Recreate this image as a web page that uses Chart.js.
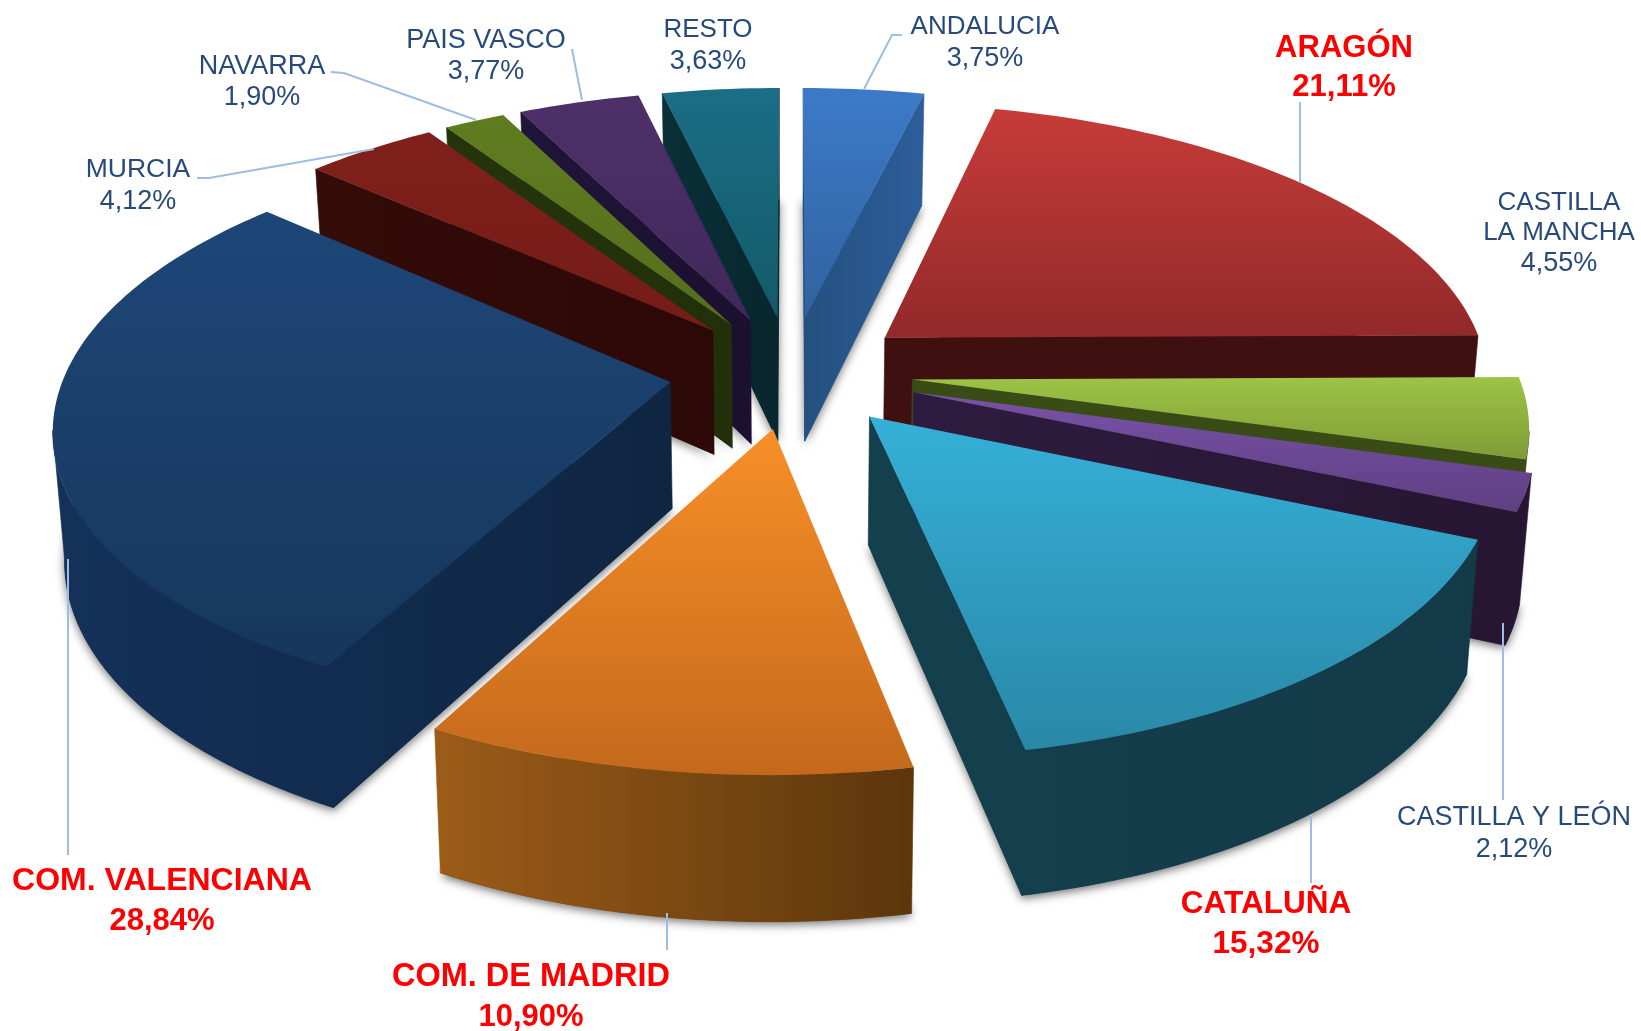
<!DOCTYPE html>
<html>

<head>
    <meta charset="utf-8">
    <title>Reparto por comunidades</title>
    <script src="https://cdn.jsdelivr.net/npm/chart.js"></script>
    <style>
        html, body { margin: 0; background: #fff; }
        #wrap { width: 1641px; height: 1031px; }
        canvas { filter: blur(0.5px); }
    </style>
</head>

<body>
    <div id="wrap"><canvas id="pie"></canvas></div>
    <script>
        const regions = ['ANDALUCIA', 'ARAGÓN', 'CASTILLA LA MANCHA', 'CASTILLA Y LEÓN', 'CATALUÑA', 'COM. DE MADRID',
            'COM. VALENCIANA', 'MURCIA', 'NAVARRA', 'PAIS VASCO', 'RESTO'];
        const shares = [3.75, 21.11, 4.55, 2.12, 15.32, 10.90, 28.84, 4.12, 1.90, 3.77, 3.63];
        const explode = [488, 488, 488, 516, 488, 488, 488, 488, 488, 488, 488];

        const topLight = ['#3c7ac8', '#c63c38', '#9dc445', '#7a52a8', '#35b0d8', '#f88f28', '#1d4678', '#80201c', '#607c20', '#4e3068', '#1a6e86'];
        const topDark = ['#3162a0', '#92292a', '#7f9c38', '#5f3f82', '#2a88a6', '#c4691c', '#17375c', '#741c18', '#566e1c', '#40285a', '#135a68'];
        const wallLight = ['#24507f', '#3f1010', '#3a4c16', '#2e1c40', '#14404e', '#9c5c18', '#14315a', '#340c08', '#25340c', '#20143a', '#0a3038'];
        const wallDark = ['#2d5e9a', '#3f1010', '#3a4c16', '#261632', '#133a48', '#5c360c', '#0f2642', '#2c0806', '#22300a', '#1c1030', '#08262e'];

        // label text, centre x, centre y of each line, size, bold
        const labelLines = [
            ['ANDALUCIA', 985, 27, 26, false], ['3,75%', 985, 59, 27, false],
            ['ARAGÓN', 1344, 48, 31, true], ['21,11%', 1344, 87, 31, true],
            ['CASTILLA', 1559, 203, 26, false], ['LA MANCHA', 1559, 233, 26, false], ['4,55%', 1559, 264, 27, false],
            ['CASTILLA Y LEÓN', 1514, 818, 27, false], ['2,12%', 1514, 850, 27, false],
            ['CATALUÑA', 1266, 904, 31.5, true], ['15,32%', 1266, 944, 31.5, true],
            ['COM. DE MADRID', 531, 977, 32.5, true], ['10,90%', 531, 1017, 31, true],
            ['COM. VALENCIANA', 162, 881, 32, true], ['28,84%', 162, 921, 31, true],
            ['MURCIA', 138, 170, 26.5, false], ['4,12%', 138, 202, 27, false],
            ['NAVARRA', 262, 67, 27, false], ['1,90%', 262, 98, 27, false],
            ['PAIS VASCO', 486, 41, 27, false], ['3,77%', 486, 72, 27, false],
            ['RESTO', 708, 30, 26, false], ['3,63%', 708, 62, 27, false],
        ];
        const leaders = [
            [[864, 89], [892, 35], [902, 35]],
            [[1300, 102], [1300, 183]],
            [[1503, 623], [1503, 800]],
            [[1311, 815], [1311, 883]],
            [[667, 913], [667, 950]],
            [[68, 559], [68, 855]],
            [[374, 149], [209, 178], [197, 178]],
            [[476, 120], [344, 73], [331, 72]],
            [[582, 100], [572, 49]],
        ];

        const tilt = 0.459;
        const persp = 0.174;

        const pie3d = {
            id: 'pie3d',
            beforeDatasetDraw(chart, args) {
                const ctx = chart.ctx;
                const arcs = args.meta.data;
                const order = arcs.map((a, i) => i).sort((p, q) => {
                    const mid = i => (arcs[i].startAngle + arcs[i].endAngle) / 2;
                    return Math.sin(mid(p)) - Math.sin(mid(q));
                });
                order.forEach(i => drawSlice(ctx, arcs[i], i));
                return false;
            },
            afterDatasetsDraw(chart) {
                const ctx = chart.ctx;
                ctx.save();
                ctx.strokeStyle = '#9dbde2';
                ctx.lineWidth = 2;
                leaders.forEach(line => {
                    ctx.beginPath();
                    line.forEach((p, i) => i ? ctx.lineTo(p[0], p[1]) : ctx.moveTo(p[0], p[1]));
                    ctx.stroke();
                });
                ctx.textAlign = 'center';
                ctx.textBaseline = 'middle';
                labelLines.forEach(l => {
                    ctx.font = (l[4] ? 'bold ' : '') + l[3] + 'px "Liberation Sans"';
                    ctx.fillStyle = l[4] ? '#ff0000' : '#274a7a';
                    ctx.fillText(l[0], l[1], l[2]);
                });
                ctx.restore();
            }
        };

        function drawSlice(ctx, el, i) {
            const shift = el.options.offset / 4;
            const R = el.outerRadius;
            const norm = R + 122;
            const half = (el.startAngle + el.endAngle) / 2;

            // pie plane -> screen
            const project = (u, v) => {
                const f = 1 / (1 - persp * v / norm);
                return { x: el.x + u * f, y: el.y + tilt * v * f, f: f };
            };
            const down = p => ({ x: p.x - (p.x - el.x) * 0.016, y: p.y + 28 + 98 * p.f });

            const ox = Math.cos(half) * shift;
            const oy = Math.sin(half) * shift;
            const tip = project(ox, oy);
            const steps = Math.ceil((el.endAngle - el.startAngle) / 0.02);
            const rim = [];
            for (let s = 0; s <= steps; s++) {
                const a = el.startAngle + (el.endAngle - el.startAngle) * s / steps;
                rim.push(project(ox + Math.cos(a) * R, oy + Math.sin(a) * R));
            }
            const outline = [tip, ...rim, tip];
            const poly = pts => {
                ctx.beginPath();
                pts.forEach((p, k) => k ? ctx.lineTo(p.x, p.y) : ctx.moveTo(p.x, p.y));
                ctx.closePath();
            };

            const xs = outline.map(p => p.x);
            const ys = outline.map(p => p.y);
            const wall = ctx.createLinearGradient(Math.min(...xs), 0, Math.max(...xs), 0);
            wall.addColorStop(0, wallLight[i]);
            wall.addColorStop(1, wallDark[i]);

            // soft shadow under the bottom face
            ctx.save();
            ctx.shadowColor = 'rgba(0,0,0,0.55)';
            ctx.shadowBlur = 10;
            ctx.shadowOffsetX = 0;
            ctx.shadowOffsetY = 3;
            ctx.fillStyle = wallDark[i];
            poly(outline.map(down));
            ctx.fill();
            ctx.restore();

            // a wall edge shows when it runs leftward along the clockwise outline
            ctx.fillStyle = wall;
            ctx.strokeStyle = wall;
            ctx.lineWidth = 0.6;
            let run = [];
            const flush = () => {
                if (run.length > 1) {
                    poly([...run, ...run.slice().reverse().map(down)]);
                    ctx.fill();
                    ctx.stroke();
                }
                run = [];
            };
            for (let k = 0; k < outline.length - 1; k++) {
                if (outline[k + 1].x < outline[k].x) {
                    if (!run.length) run.push(outline[k]);
                    run.push(outline[k + 1]);
                } else {
                    flush();
                }
            }
            flush();

            const face = ctx.createLinearGradient(0, Math.min(...ys), 0, Math.max(...ys));
            face.addColorStop(0, topLight[i]);
            face.addColorStop(1, topDark[i]);
            ctx.fillStyle = face;
            poly(outline);
            ctx.fill();
        }

        new Chart(document.getElementById('pie'), {
            type: 'pie',
            data: {
                labels: regions,
                datasets: [{
                    data: shares,
                    backgroundColor: topLight,
                    borderWidth: 0,
                    offset: explode,
                }],
            },
            options: {
                responsive: true,
                maintainAspectRatio: false,
                animation: false,
                events: [],
                radius: 605,
                layout: { padding: { right: 59, bottom: 287 } },
                plugins: { legend: { display: false }, tooltip: { enabled: false } },
            },
            plugins: [pie3d],
        });
    </script>
</body>

</html>
